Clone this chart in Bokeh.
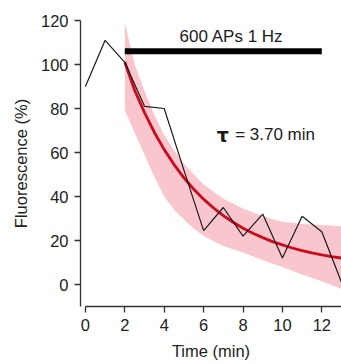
from bokeh.plotting import figure
from bokeh.models import Range1d, FixedTicker
from bokeh.core.properties import value
from bokeh.embed import file_html
from bokeh.resources import INLINE

# Data
time = [0, 1, 2, 3, 4, 5, 6, 7, 8, 9, 10, 11, 12, 13]
fluor = [90, 111, 101, 81, 80, 52, 24.5, 35, 22, 32, 12, 31, 24, 1]

fit_t = [2, 2.5, 3, 3.5, 4, 4.5, 5, 5.5, 6, 6.5, 7, 7.5, 8, 8.5, 9, 9.5,
         10, 10.5, 11, 11.5, 12, 12.5, 13]
fit_y = [101, 88.3, 78.1, 69.1, 61.3, 54.5, 48.5, 43.3, 38.8, 34.8, 31.3, 28.3,
         25.6, 23.3, 21.3, 19.5, 18.0, 16.6, 15.4, 14.4, 13.5, 12.7, 12.0]

band_t = [2, 2.5, 3, 3.5, 4, 4.5, 5, 5.5, 6, 7, 8, 9, 10, 11, 12, 13]
band_hi = [119, 100, 88, 77, 68, 61, 55, 50, 45.5, 39, 34.5, 31, 28.5, 27.5, 27, 26.5]
band_lo = [79, 69, 59, 49, 40, 34, 29.5, 25.5, 22, 17.5, 14.5, 11, 8, 4.5, 1.5, -2]

stim_start, stim_end, stim_level = 2, 12, 106
stim_label = "600 APs 1 Hz"
tau_label = "= 3.70 min"

y_ticks = [0, 20, 40, 60, 80, 100, 120]
x_ticks = [0, 2, 4, 6, 8, 10, 12]

FONT = "Liberation Sans"

p = figure(width=341, height=364, output_backend="svg", toolbar_location=None,
           x_range=Range1d(-0.25, 13.0), y_range=Range1d(-10, 120),
           min_border_left=80, min_border_right=0, min_border_top=20,
           min_border_bottom=58)
p.outline_line_color = None
p.grid.visible = False
p.background_fill_color = "white"

# band and fit
p.varea(x=band_t, y1=band_lo, y2=band_hi, fill_color="#f9c6cd", fill_alpha=1.0)
p.line(fit_t, fit_y, line_color="#cc0a1e", line_width=2.8)
p.line(time, fluor, line_color="#1a1a1a", line_width=1.2)

# stimulation bar
p.segment(x0=[stim_start], y0=[stim_level], x1=[stim_end], y1=[stim_level],
          line_color="black", line_width=6, line_cap="butt")
p.text(x=[7.42], y=[112.7], text=[stim_label], text_font=value(FONT),
       text_font_size="17px", text_align="center", text_baseline="middle",
       text_color="#1a1a1a")
p.text(x=[6.67], y=[68], text=["τ"], text_font=value("DejaVu Sans"),
       text_font_size="19px", text_font_style="bold", text_align="left",
       text_baseline="middle", text_color="#1a1a1a")
p.text(x=[7.6], y=[68], text=[tau_label], text_font=value(FONT),
       text_font_size="17px", text_align="left", text_baseline="middle",
       text_color="#1a1a1a")

for ax in (p.xaxis[0], p.yaxis[0]):
    ax.axis_line_color = "#333333"
    ax.axis_line_width = 1.3
    ax.major_tick_line_color = "#333333"
    ax.major_tick_line_width = 1.3
    ax.major_tick_in = 0
    ax.major_tick_out = 6
    ax.minor_tick_line_color = None
    ax.major_label_text_font = FONT
    ax.major_label_text_font_size = "16.5px"
    ax.major_label_text_color = "#222222"
    ax.axis_label_text_font = FONT
    ax.axis_label_text_font_size = "16.5px"
    ax.axis_label_text_font_style = "normal"
    ax.axis_label_text_color = "#222222"

p.xaxis.ticker = FixedTicker(ticks=x_ticks)
p.yaxis.ticker = FixedTicker(ticks=y_ticks)
p.xaxis.bounds = (0, 13)
p.yaxis.bounds = (-10, 120)
p.xaxis.axis_label = "Time (min)"
p.yaxis.axis_label = "Fluorescence (%)"
p.xaxis.major_label_standoff = 6
p.yaxis.major_label_standoff = 6
p.xaxis.axis_label_standoff = 8
p.yaxis.axis_label_standoff = 8

open("out.html", "w").write(file_html(p, INLINE))
